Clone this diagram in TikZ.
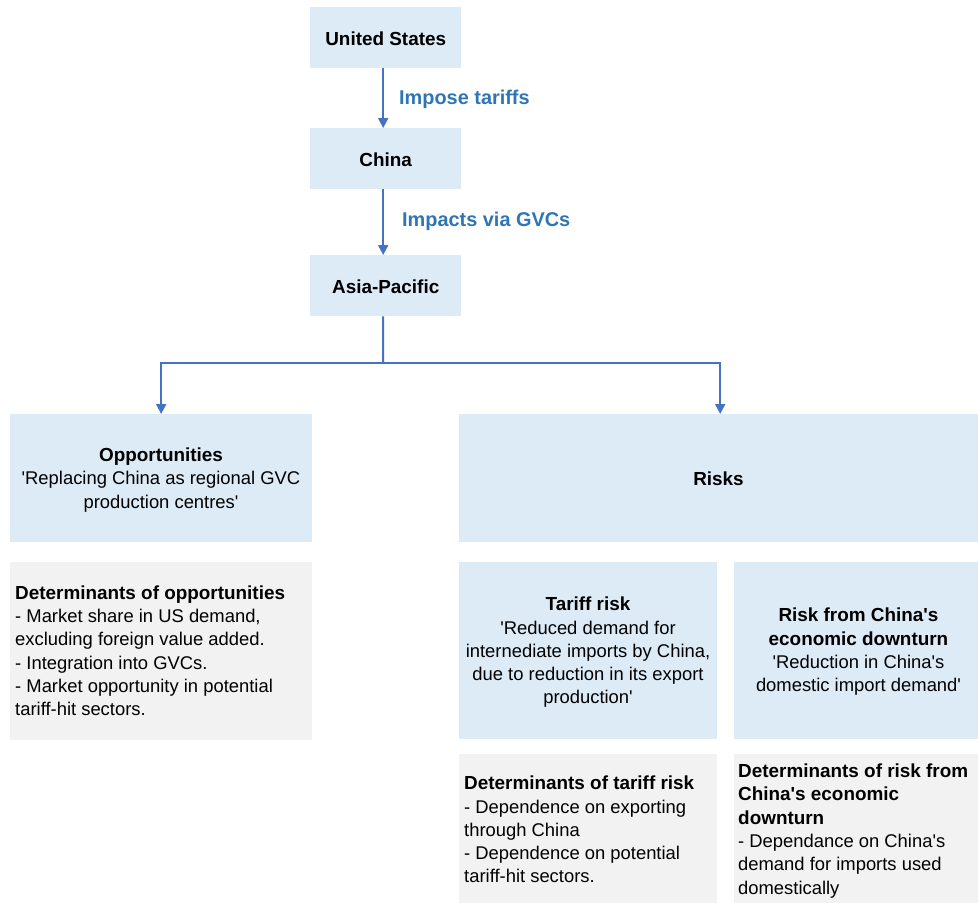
\documentclass[tikz,border=0pt]{standalone}
\usepackage{fontspec}
\setmainfont{Liberation Sans}[Ligatures=TeXOff]
\usetikzlibrary{arrows.meta,positioning,calc}
\definecolor{boxblue}{RGB}{221,235,247}
\definecolor{boxgray}{RGB}{242,242,242}
\definecolor{arrowblue}{RGB}{68,114,196}
\definecolor{labelblue}{RGB}{46,117,182}
\newcommand\hd[1]{{\fontsize{18.9bp}{23.3bp}\selectfont\bfseries #1}}
\begin{document}
\begin{tikzpicture}[x=1bp,y=-1bp,
  every node/.style={font=\fontsize{18.4bp}{23.3bp}\selectfont},
  bluebox/.style={fill=boxblue,draw=none,inner sep=0pt,anchor=north west},
  graybox/.style={fill=boxgray,draw=none,inner sep=0pt,anchor=north west},
  txt/.style={inner sep=0pt,execute at begin node=\strut,execute at end node=\strut},
  boldtxt/.style={txt,font=\fontsize{18.9bp}{23.3bp}\selectfont\bfseries},
  conn/.style={draw=arrowblue,line width=2bp},
  arr/.style={conn,-{Triangle[width=10bp,length=10bp]}},
  lbl/.style={inner sep=0pt,anchor=west,text=labelblue,font=\fontsize{19.9bp}{23.3bp}\selectfont\bfseries}
]
\useasboundingbox (0,0) rectangle (978,903);
% top chain
\node[bluebox,minimum width=151bp,minimum height=61bp] (us) at (310,7) {};
\node[boldtxt] (ust) at ([yshift=-3bp]us.center) {United States};
\node[bluebox,minimum width=151bp,minimum height=61bp] (china) at (310,128) {};
\node[boldtxt] (chinat) at ([yshift=-3bp]china.center) {China};
\node[bluebox,minimum width=151bp,minimum height=61bp] (asia) at (310,255) {};
\node[boldtxt] (asiat) at ([yshift=-3bp]asia.center) {Asia-Pacific};
% second level
\node[bluebox,minimum width=302bp,minimum height=128bp] (opp) at (10,414) {};
\node[txt,align=center] (oppt) at (161,481.5) {\hd{Opportunities}\\'Replacing China as regional GVC\\production centres'};
\node[bluebox,minimum width=519bp,minimum height=128bp] (risks) at (459,414) {};
\node[boldtxt] (riskst) at (718.5,481) {Risks};
% third level
\node[graybox,minimum width=302bp,minimum height=178bp] (oppdet) at (10,562) {};
\node[txt,align=left,anchor=west] (oppdett) at (15,654) {\hd{Determinants of opportunities}\\- Market share in US demand,\\excluding foreign value added.\\- Integration into GVCs.\\- Market opportunity in potential\\tariff-hit sectors.};
\node[bluebox,minimum width=258bp,minimum height=177bp] (tariff) at (459,562) {};
\node[txt,align=center] (tarifft) at (588,654) {\hd{Tariff risk}\\'Reduced demand for\\internediate imports by China,\\due to reduction in its export\\production'};
\node[bluebox,minimum width=244bp,minimum height=177bp] (cdown) at (734,562) {};
\node[txt,align=center] (cdownt) at (858.5,653.5) {\hd{Risk from China's}\\\hd{economic downturn}\\'Reduction in China's\\domestic import demand'};
% fourth level
\node[graybox,minimum width=258bp,minimum height=149bp] (tdet) at (459,754) {};
\node[txt,align=left,anchor=west] (tdett) at (464,833) {\hd{Determinants of tariff risk}\\- Dependence on exporting\\through China\\- Dependence on potential\\tariff-hit sectors.};
\node[graybox,minimum width=244bp,minimum height=149bp] (cdet) at (734,754) {};
\node[txt,align=left,anchor=west] (cdett) at (738,832.5) {\hd{Determinants of risk from}\\\hd{China's economic}\\\hd{downturn}\\- Dependance on China's\\demand for imports used\\domestically};
% connectors
\draw[arr] ([xshift=-2.5bp]us.south) -- ([xshift=-2.5bp]china.north);
\draw[arr] ([xshift=-2.5bp]china.south) -- ([xshift=-2.5bp]asia.north);
\node[lbl] (l1) at (399,99) {Impose tariffs};
\node[lbl] (l2) at (402,221.5) {Impacts via GVCs};
\coordinate (split) at (383,363);
\draw[conn] ([xshift=-2.5bp]asia.south) -- (split);
\draw[arr] (split) -| (opp.north);
\draw[arr] (split) -| ([xshift=1.5bp]risks.north);
\end{tikzpicture}
\end{document}
